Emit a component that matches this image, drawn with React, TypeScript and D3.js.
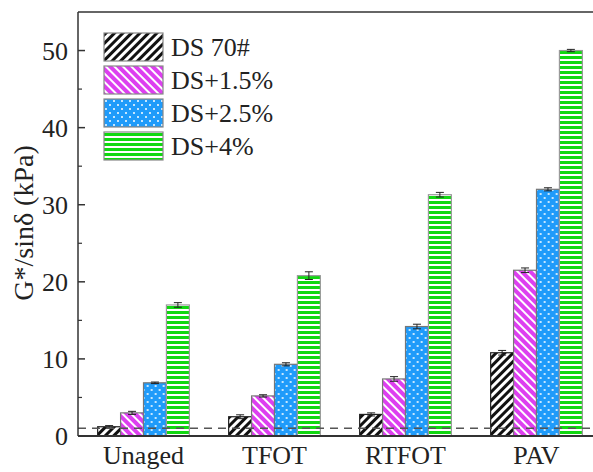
import React from 'react'
import * as d3 from 'd3'

const groups = ['Unaged', 'TFOT', 'RTFOT', 'PAV']
const seriesNames = ['DS 70#', 'DS+1.5%', 'DS+2.5%', 'DS+4%']
const ds70 = [1.2, 2.5, 2.8, 10.8]
const ds15 = [3.0, 5.2, 7.4, 21.5]
const ds25 = [6.9, 9.3, 14.2, 32.0]
const ds4 = [17.0, 20.8, 31.3, 50.0]
const err70 = [0.15, 0.25, 0.2, 0.3]
const err15 = [0.2, 0.15, 0.3, 0.3]
const err25 = [0.1, 0.2, 0.3, 0.2]
const err4 = [0.3, 0.5, 0.3, 0.15]
const yTicks = [0, 10, 20, 30, 40, 50]
const yMinor = [5, 15, 25, 35, 45]
const threshold = 1.0

const values = [ds70, ds15, ds25, ds4]
const errors = [err70, err15, err25, err4]
const fills = ['url(#pBlack)', 'url(#pPink)', 'url(#pBlue)', 'url(#pGreen)']
const strokes = ['#222', '#777', '#777', '#999']

const W = 593
const H = 472
const left = 78
const right = 602
const top = 12
const bottom = 436

const App = () => {
  const x0 = d3.scaleBand().domain(groups).range([left, right]).paddingInner(0.3).paddingOuter(0.15)
  const x1 = d3.scaleBand().domain(seriesNames).range([0, x0.bandwidth()])
  const y = d3.scaleLinear().domain([0, 55]).range([bottom, top])
  const font = '"Liberation Serif", "Times New Roman", serif'

  return (
    <svg width={W} height={H} style={{ position: 'absolute', left: 0, top: 0, background: '#fff' }} fontFamily={font}>
      <defs>
        <pattern id="pBlack" width="6" height="6" patternUnits="userSpaceOnUse" patternTransform="rotate(45)">
          <rect width="6" height="6" fill="#fff" />
          <rect width="3" height="6" fill="#111" />
        </pattern>
        <pattern id="pPink" width="6" height="6" patternUnits="userSpaceOnUse" patternTransform="rotate(-45)">
          <rect width="6" height="6" fill="#dd3ff0" />
          <rect width="2" height="6" fill="#fff" />
        </pattern>
        <pattern id="pBlue" width="8" height="8" patternUnits="userSpaceOnUse">
          <rect width="8" height="8" fill="#1f9bfa" />
          <circle cx="2" cy="2" r="1" fill="#fff" />
          <circle cx="6" cy="6" r="1" fill="#fff" />
        </pattern>
        <pattern id="pGreen" width="5" height="5" patternUnits="userSpaceOnUse">
          <rect width="5" height="5" fill="#fff" />
          <rect y="1" width="5" height="3" fill="#10d810" />
        </pattern>
      </defs>

      {/* bars */}
      {groups.map((g, gi) => (
        <g key={g} transform={`translate(${x0(g)},0)`}>
          {seriesNames.map((s, si) => {
            const v = values[si][gi]
            const e = errors[si][gi]
            const bx = x1(s)!
            const bw = x1.bandwidth()
            const cx = bx + bw / 2
            return (
              <g key={s}>
                <rect x={bx} y={y(v)} width={bw} height={bottom - y(v)} fill={fills[si]} stroke={strokes[si]} strokeWidth={1.2} />
                <line x1={cx} x2={cx} y1={y(v + e)} y2={y(v - e)} stroke="#222" strokeWidth={1} />
                <line x1={cx - 4} x2={cx + 4} y1={y(v + e)} y2={y(v + e)} stroke="#222" strokeWidth={1} />
                <line x1={cx - 4} x2={cx + 4} y1={y(v - e)} y2={y(v - e)} stroke="#222" strokeWidth={1} />
              </g>
            )
          })}
        </g>
      ))}

      {/* threshold line */}
      <line x1={left} x2={right} y1={y(threshold)} y2={y(threshold)} stroke="#555" strokeWidth={1.5} strokeDasharray="8,6" />

      {/* frame */}
      <line x1={left} x2={right} y1={top} y2={top} stroke="#333" strokeWidth={1.5} />
      <line x1={left} x2={left} y1={top} y2={bottom} stroke="#333" strokeWidth={1.5} />
      <line x1={left} x2={right} y1={bottom} y2={bottom} stroke="#333" strokeWidth={2} />

      {/* y ticks */}
      {yTicks.map(t => (
        <g key={t}>
          <line x1={left} x2={left + 7} y1={y(t)} y2={y(t)} stroke="#333" strokeWidth={1.5} />
          <text x={left - 10} y={y(t)} dy="0.35em" textAnchor="end" fontSize={26} fill="#222">{t}</text>
        </g>
      ))}
      {yMinor.map(t => (
        <line key={t} x1={left} x2={left + 4} y1={y(t)} y2={y(t)} stroke="#333" strokeWidth={1.2} />
      ))}

      {/* x labels */}
      {groups.map(g => (
        <text key={g} x={x0(g)! + x0.bandwidth() / 2} y={464} textAnchor="middle" fontSize={26} fill="#222">{g}</text>
      ))}

      {/* y title */}
      <text transform="translate(33,223) rotate(-90)" textAnchor="middle" fontSize={28} fill="#222">
        G*/sinδ (kPa)
      </text>

      {/* legend */}
      {seriesNames.map((s, i) => (
        <g key={s} transform={`translate(104,${33 + i * 33})`}>
          <rect width={59} height={28} fill={fills[i]} stroke="#888" strokeWidth={1.2} />
          <text x={67} y={14} dy="0.35em" fontSize={26} fill="#222">{s}</text>
        </g>
      ))}
    </svg>
  )
}

export default App
